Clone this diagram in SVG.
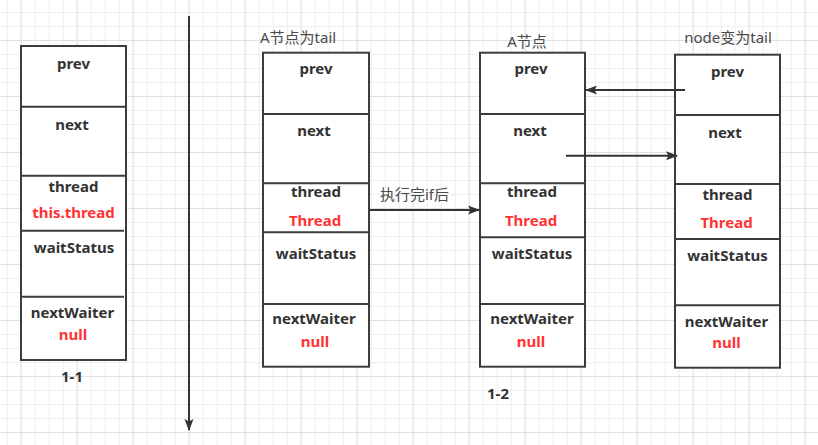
<svg xmlns="http://www.w3.org/2000/svg" width="818" height="445" viewBox="0 0 818 445">
<defs>
<pattern id="gMinor" x="6.7" y="12" width="14" height="14" patternUnits="userSpaceOnUse">
<path d="M0.5,0 V14 M0,0.5 H14" stroke="#eeeeee" stroke-width="1" fill="none"/>
</pattern>
<pattern id="gMajor" x="20.7" y="40" width="56" height="56" patternUnits="userSpaceOnUse">
<path d="M0.5,0 V56 M0,0.5 H56" stroke="#e0e0e0" stroke-width="1" fill="none"/>
</pattern>
<marker id="arr" viewBox="0 0 12 10" refX="11" refY="5" markerWidth="12" markerHeight="10" markerUnits="userSpaceOnUse" orient="auto">
<path d="M0,0.5 L12,5 L0,9.5 L2.5,5 Z" fill="#333333"/>
</marker>
<style>
.box{fill:#ffffff;stroke:#3c3c3c;stroke-width:2}
.div{stroke:#3c3c3c;stroke-width:2;fill:none}
.f{font-family:"Noto Sans","DejaVu Sans",sans-serif;font-weight:bold;font-size:15px;fill:#333333;text-anchor:middle}
.r{fill:#ff3333}
.lbl{font-family:"Noto Sans","Noto Sans CJK SC",sans-serif;font-size:15px;fill:#4a4a4a}
.conn{stroke:#333333;stroke-width:2;fill:none}
</style>
</defs>
<rect width="818" height="445" fill="#ffffff"/>
<rect width="818" height="445" fill="url(#gMinor)"/>
<rect width="818" height="445" fill="url(#gMajor)"/>

<g id="node-1-1">
<rect class="box" x="21" y="46" width="105" height="314"/>
<path class="div" d="M21,106.7 H126 M21,175.7 H126 M21,230.7 H124 M21,296.7 H124"/>
<text class="f" x="73.5" y="69">prev</text>
<text class="f" x="72" y="130">next</text>
<text class="f" x="73.5" y="192">thread</text>
<text class="f r" x="73.5" y="218">this.thread</text>
<text class="f" x="74" y="253">waitStatus</text>
<text class="f" x="72.5" y="318">nextWaiter</text>
<text class="f r" x="73" y="340">null</text>
</g>
<text class="f" x="72" y="382">1-1</text>

<g id="node-a-tail">
<rect class="box" x="263" y="52.7" width="106" height="314"/>
<path class="div" d="M263,114 H369 M263,183.3 H369 M263,232.3 H369 M263,304 H369"/>
<text class="f" x="316" y="74">prev</text>
<text class="f" x="314" y="136">next</text>
<text class="f" x="316" y="197">thread</text>
<text class="f r" x="315" y="226">Thread</text>
<text class="f" x="316" y="259">waitStatus</text>
<text class="f" x="314" y="324">nextWaiter</text>
<text class="f r" x="315" y="347">null</text>
</g>
<text class="lbl" x="260" y="43">A节点为tail</text>

<g id="node-a">
<rect class="box" x="480" y="52.7" width="105" height="314"/>
<path class="div" d="M480,114 H585 M480,183.3 H585 M480,237.3 H585 M480,304 H585"/>
<text class="f" x="531" y="74">prev</text>
<text class="f" x="530" y="136">next</text>
<text class="f" x="532" y="197">thread</text>
<text class="f r" x="531" y="226">Thread</text>
<text class="f" x="532" y="259">waitStatus</text>
<text class="f" x="532" y="324">nextWaiter</text>
<text class="f r" x="531" y="347">null</text>
</g>
<text class="lbl" x="527" y="47" text-anchor="middle">A节点</text>

<g id="node-tail">
<rect class="box" x="675" y="54.7" width="105" height="313"/>
<path class="div" d="M675,115 H780 M675,184 H780 M675,239 H780 M675,305.3 H780"/>
<text class="f" x="727.5" y="77">prev</text>
<text class="f" x="725" y="138">next</text>
<text class="f" x="727.5" y="200">thread</text>
<text class="f r" x="726.5" y="228">Thread</text>
<text class="f" x="727.5" y="261">waitStatus</text>
<text class="f" x="726.5" y="327">nextWaiter</text>
<text class="f r" x="726.5" y="348">null</text>
</g>
<text class="lbl" x="728" y="43" text-anchor="middle">node变为tail</text>

<text class="f" x="498" y="399">1-2</text>

<g id="connectors">
<line class="conn" x1="189" y1="16" x2="189" y2="430" marker-end="url(#arr)"/>
<line class="conn" x1="369" y1="210" x2="479" y2="210" marker-end="url(#arr)"/>
<line class="conn" x1="685" y1="90" x2="586" y2="90" marker-end="url(#arr)"/>
<line class="conn" x1="566" y1="155.7" x2="677" y2="155.7" marker-end="url(#arr)"/>
</g>
<text class="lbl" x="414.5" y="200" text-anchor="middle">执行完if后</text>
</svg>
